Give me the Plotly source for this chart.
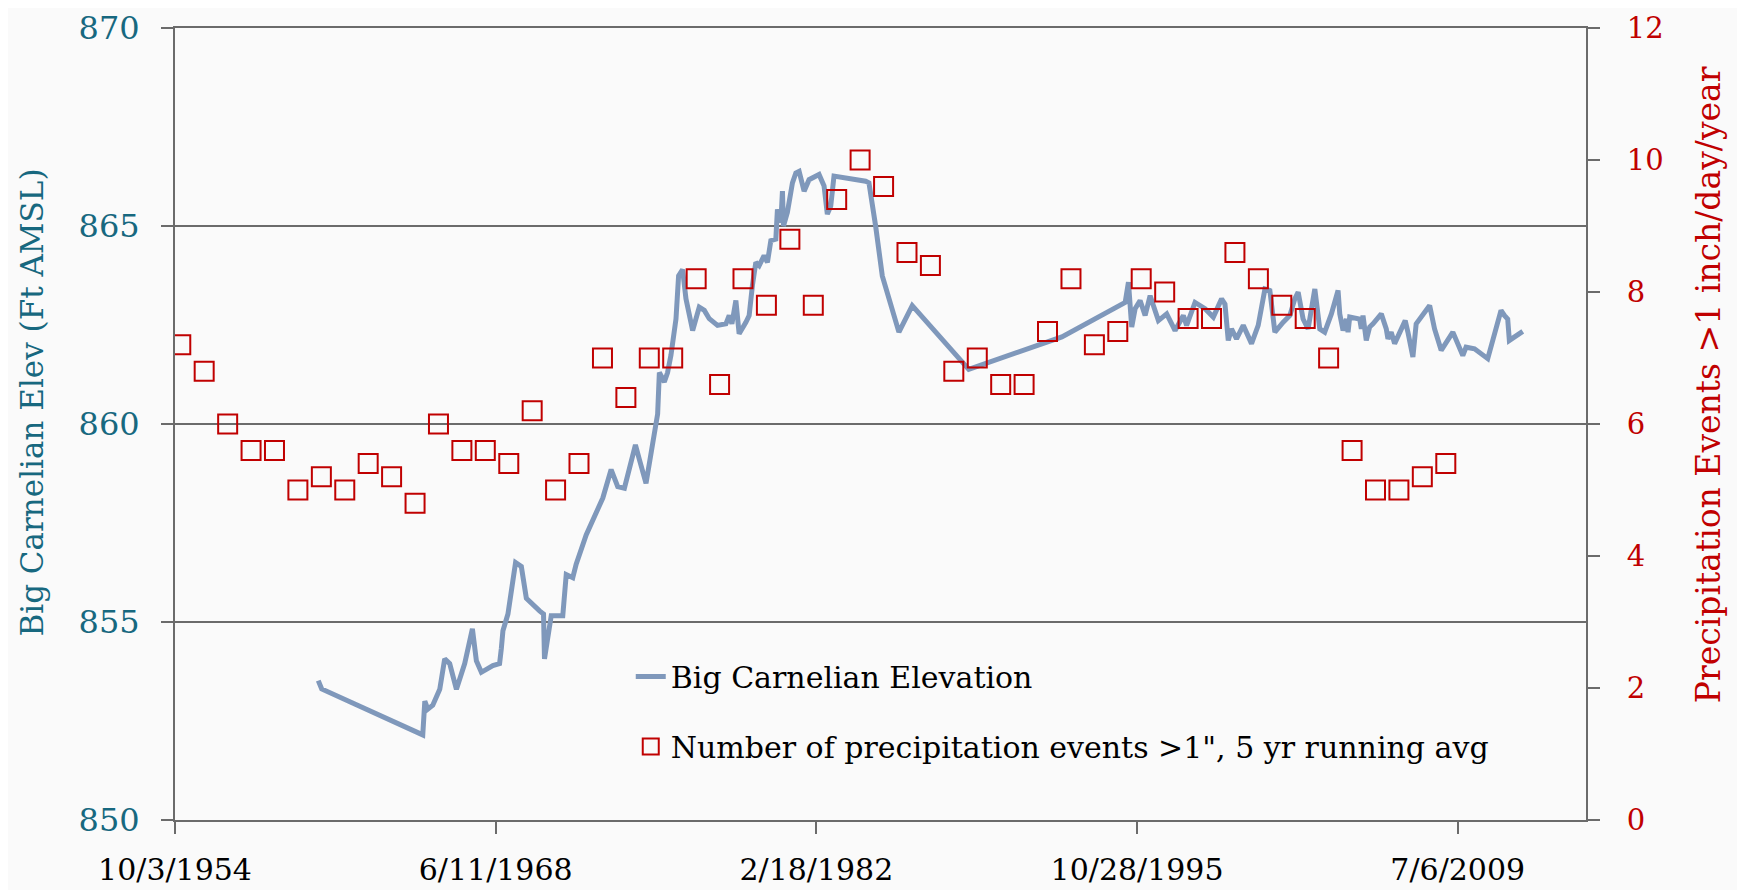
import plotly.graph_objects as go

# Big Carnelian lake elevation (ft AMSL), irregular survey dates
elev_dates = [
    "1960-11-14", "1961-01-06", "1965-05-01", "1965-06-02", "1965-07-18", "1965-10-04",
    "1966-01-21", "1966-04-08", "1966-06-25", "1966-10-08", "1967-02-14", "1967-06-14",
    "1967-08-15", "1967-11-01", "1968-04-28", "1968-08-11", "1968-09-07", "1968-10-02",
    "1968-12-19", "1969-04-17", "1969-07-16", "1969-10-02", "1970-04-26", "1970-06-27",
    "1970-07-12", "1970-09-02", "1970-10-25", "1971-04-23", "1971-06-16", "1971-09-26",
    "1971-11-18", "1972-04-22", "1972-08-03", "1973-01-06", "1973-05-16", "1973-08-27",
    "1973-12-09", "1974-03-24", "1974-05-30", "1974-07-31", "1974-11-11", "1975-02-22",
    "1975-05-11", "1975-06-07", "1975-08-23", "1975-10-13", "1975-12-05", "1976-02-21",
    "1976-04-02", "1976-06-03", "1976-07-26", "1976-11-07", "1977-02-18", "1977-05-08",
    "1977-07-24", "1977-11-30", "1978-04-10", "1978-05-31", "1978-07-12", "1978-09-12",
    "1978-11-02", "1979-02-15", "1979-04-07", "1979-05-28", "1979-07-20", "1979-09-10",
    "1979-11-26", "1980-01-17", "1980-03-10", "1980-05-27", "1980-06-21", "1980-08-13",
    "1980-09-07", "1980-09-23", "1980-11-23", "1981-02-10", "1981-04-04", "1981-05-25",
    "1981-08-11", "1981-10-27", "1982-01-13", "1982-04-01", "1982-06-18", "1982-08-08",
    "1982-09-30", "1982-11-20", "1984-03-28", "1984-05-18", "1984-08-30", "1984-12-12",
    "1985-08-28", "1986-03-24", "1988-08-21", "1992-08-12", "1995-04-26", "1995-06-16",
    "1995-08-06", "1995-09-28", "1995-12-15", "1996-03-02", "1996-05-19", "1996-09-25",
    "1997-02-01", "1997-06-12", "1997-10-19", "1997-12-09", "1998-04-19", "1998-09-22",
    "1999-01-29", "1999-06-07", "1999-07-30", "1999-09-19", "1999-11-09", "2000-01-26",
    "2000-05-10", "2000-09-16", "2000-12-29", "2001-04-13", "2001-06-29", "2001-09-15",
    "2002-01-23", "2002-05-07", "2002-07-23", "2002-09-13", "2002-11-29", "2003-02-15",
    "2003-05-31", "2003-08-16", "2003-11-01", "2004-02-13", "2004-05-27", "2004-06-23",
    "2004-08-13", "2004-10-04", "2004-10-30", "2004-11-25", "2005-04-30", "2005-05-25",
    "2005-06-20", "2005-08-10", "2005-10-02", "2005-11-23", "2006-04-01", "2006-06-18",
    "2006-07-14", "2006-09-03", "2006-10-26", "2007-04-09", "2007-05-21", "2007-08-07",
    "2007-09-27", "2008-04-24", "2008-07-10", "2008-10-21", "2009-04-21", "2009-07-07",
    "2009-09-23", "2009-11-13", "2010-03-25", "2010-10-17", "2011-05-12", "2011-07-04",
    "2011-08-24", "2011-09-19", "2012-04-15",
]
elev_ft = [
    853.52, 853.31, 852.15, 853.00, 852.80, 852.90,
    853.30, 854.07, 853.95, 853.30, 853.95, 854.83,
    854.02, 853.73, 853.90, 853.95, 854.33, 854.78,
    855.20, 856.50, 856.40, 855.60, 855.28, 855.20,
    854.07, 854.70, 855.16, 855.16, 856.20, 856.12,
    856.46, 857.20, 857.55, 858.13, 858.85, 858.42,
    858.38, 859.01, 859.47, 859.10, 858.50, 859.50,
    860.25, 861.30, 861.06, 861.30, 861.74, 862.65,
    863.74, 863.90, 863.16, 862.36, 862.95, 862.87,
    862.66, 862.49, 862.53, 862.74, 862.53, 863.12,
    862.28, 862.57, 862.74, 863.50, 864.08, 864.00,
    864.25, 864.08, 864.63, 864.67, 865.42, 865.09,
    865.88, 865.00, 865.34, 866.09, 866.34, 866.38,
    865.88, 866.17, 866.22, 866.30, 866.01, 865.30,
    865.50, 866.26, 866.13, 866.09, 865.00, 863.74,
    862.32, 862.99, 861.38, 862.20, 863.07, 863.58,
    862.45, 862.91, 863.12, 862.74, 863.24, 862.61,
    862.78, 862.36, 862.74, 862.49, 863.07, 862.91,
    862.70, 863.16, 863.03, 862.11, 862.40, 862.15,
    862.49, 862.03, 862.49, 863.41, 863.37, 862.32,
    862.57, 862.74, 863.16, 863.33, 862.65, 862.40,
    863.41, 862.40, 862.32, 862.78, 863.37, 862.78,
    862.36, 862.65, 862.32, 862.70, 862.65, 862.40,
    862.74, 862.11, 862.45, 862.53, 862.78, 862.40,
    862.15, 862.32, 862.03, 862.61, 862.32, 861.69,
    862.53, 862.99, 862.40, 861.86, 862.32, 861.99,
    861.73, 861.94, 861.90, 861.65, 862.87, 862.74,
    862.65, 862.11, 862.34,
]

# precipitation events >1" per year, 5 yr running average
precip_years = list(range(1955, 2010))
precip_avg = [
    7.2, 6.8, 6.0, 5.6, 5.6, 5.0, 5.2, 5.0, 5.4, 5.2,
    4.8, 6.0, 5.6, 5.6, 5.4, 6.2, 5.0, 5.4, 7.0, 6.4,
    7.0, 7.0, 8.2, 6.6, 8.2, 7.8, 8.8, 7.8, 9.4, 10.0,
    9.6, 8.6, 8.4, 6.8, 7.0, 6.6, 6.6, 7.4, 8.2, 7.2,
    7.4, 8.2, 8.0, 7.6, 7.6, 8.6, 8.2, 7.8, 7.6, 7.0,
    5.6, 5.0, 5.0, 5.2, 5.4,
]
precip_dates = ["%d-01-01" % y for y in precip_years]

x_tickvals = ["1954-10-03", "1968-06-11", "1982-02-18", "1995-10-28", "2009-07-06"]
x_ticktext = ["10/3/1954", "6/11/1968", "2/18/1982", "10/28/1995", "7/6/2009"]

FONT = "DejaVu Serif"
TEAL = "#17687f"
RED = "#c00000"
AXIS = "#6b6b6b"

fig = go.Figure()
fig.add_trace(go.Scatter(x=elev_dates, y=elev_ft, mode="lines",
                         name="Big Carnelian Elevation", legendgroup="a",
                         line=dict(color="#7f98bb", width=5)))
fig.add_trace(go.Scatter(x=precip_dates, y=precip_avg, mode="markers", yaxis="y2",
                         name="Number of precipitation events >1\", 5 yr running avg",
                         legendgroup="b",
                         marker=dict(symbol="square-open", size=19, color=RED,
                                     line=dict(color=RED, width=2))))

# page body adds an 8px offset, so margins are trimmed on left/top
fig.update_layout(
    width=1745, height=890,
    margin=dict(l=167, r=167, t=20, b=78),
    paper_bgcolor="#fafafa", plot_bgcolor="#fafafa",
    font=dict(family=FONT, size=28, color="black"),
    showlegend=True,
    legend=dict(x=0.323, y=0.214, xanchor="left", yanchor="top",
                bgcolor="rgba(0,0,0,0)", traceorder="grouped", tracegroupgap=28,
                font=dict(family=FONT, size=30, color="black")),
    xaxis=dict(type="date", range=["1954-10-03", "2014-12-27"], automargin=False,
               tickvals=x_tickvals, ticktext=x_ticktext,
               showgrid=False, zeroline=False,
               showline=True, linecolor=AXIS, linewidth=2, mirror=True,
               ticks="outside", ticklen=12, tickwidth=2, tickcolor=AXIS,
               ticklabelstandoff=10, ticklabeloverflow="allow",
               tickfont=dict(family=FONT, size=30, color="black")),
    yaxis=dict(range=[850, 870], dtick=5, tick0=850, automargin=False,
               showgrid=True, gridcolor=AXIS, gridwidth=2, zeroline=False,
               showline=True, linecolor=AXIS, linewidth=2,
               ticks="outside", ticklen=12, tickwidth=2, tickcolor=AXIS,
               ticklabelstandoff=15, ticklabeloverflow="allow",
               tickfont=dict(family=FONT, size=32, color=TEAL)),
    yaxis2=dict(range=[0, 12], dtick=2, tick0=0, overlaying="y", side="right",
                automargin=False, showgrid=False, zeroline=False,
                showline=True, linecolor=AXIS, linewidth=2,
                ticks="outside", ticklen=12, tickwidth=2, tickcolor=AXIS,
                ticklabelstandoff=21, ticklabeloverflow="allow",
                tickfont=dict(family=FONT, size=29, color=RED)),
    annotations=[
        dict(text="Big Carnelian Elev (Ft AMSL)", textangle=-90,
             xref="paper", yref="paper", x=-0.1014, y=0.527,
             xanchor="center", yanchor="middle", showarrow=False,
             font=dict(family=FONT, size=31, color=TEAL)),
        dict(text="Precipitation Events >1 inch/day/year", textangle=-90,
             xref="paper", yref="paper", x=1.0865, y=0.549,
             xanchor="center", yanchor="middle", showarrow=False,
             font=dict(family=FONT, size=33, color=RED)),
    ],
)

fig.write_html("out.html")
